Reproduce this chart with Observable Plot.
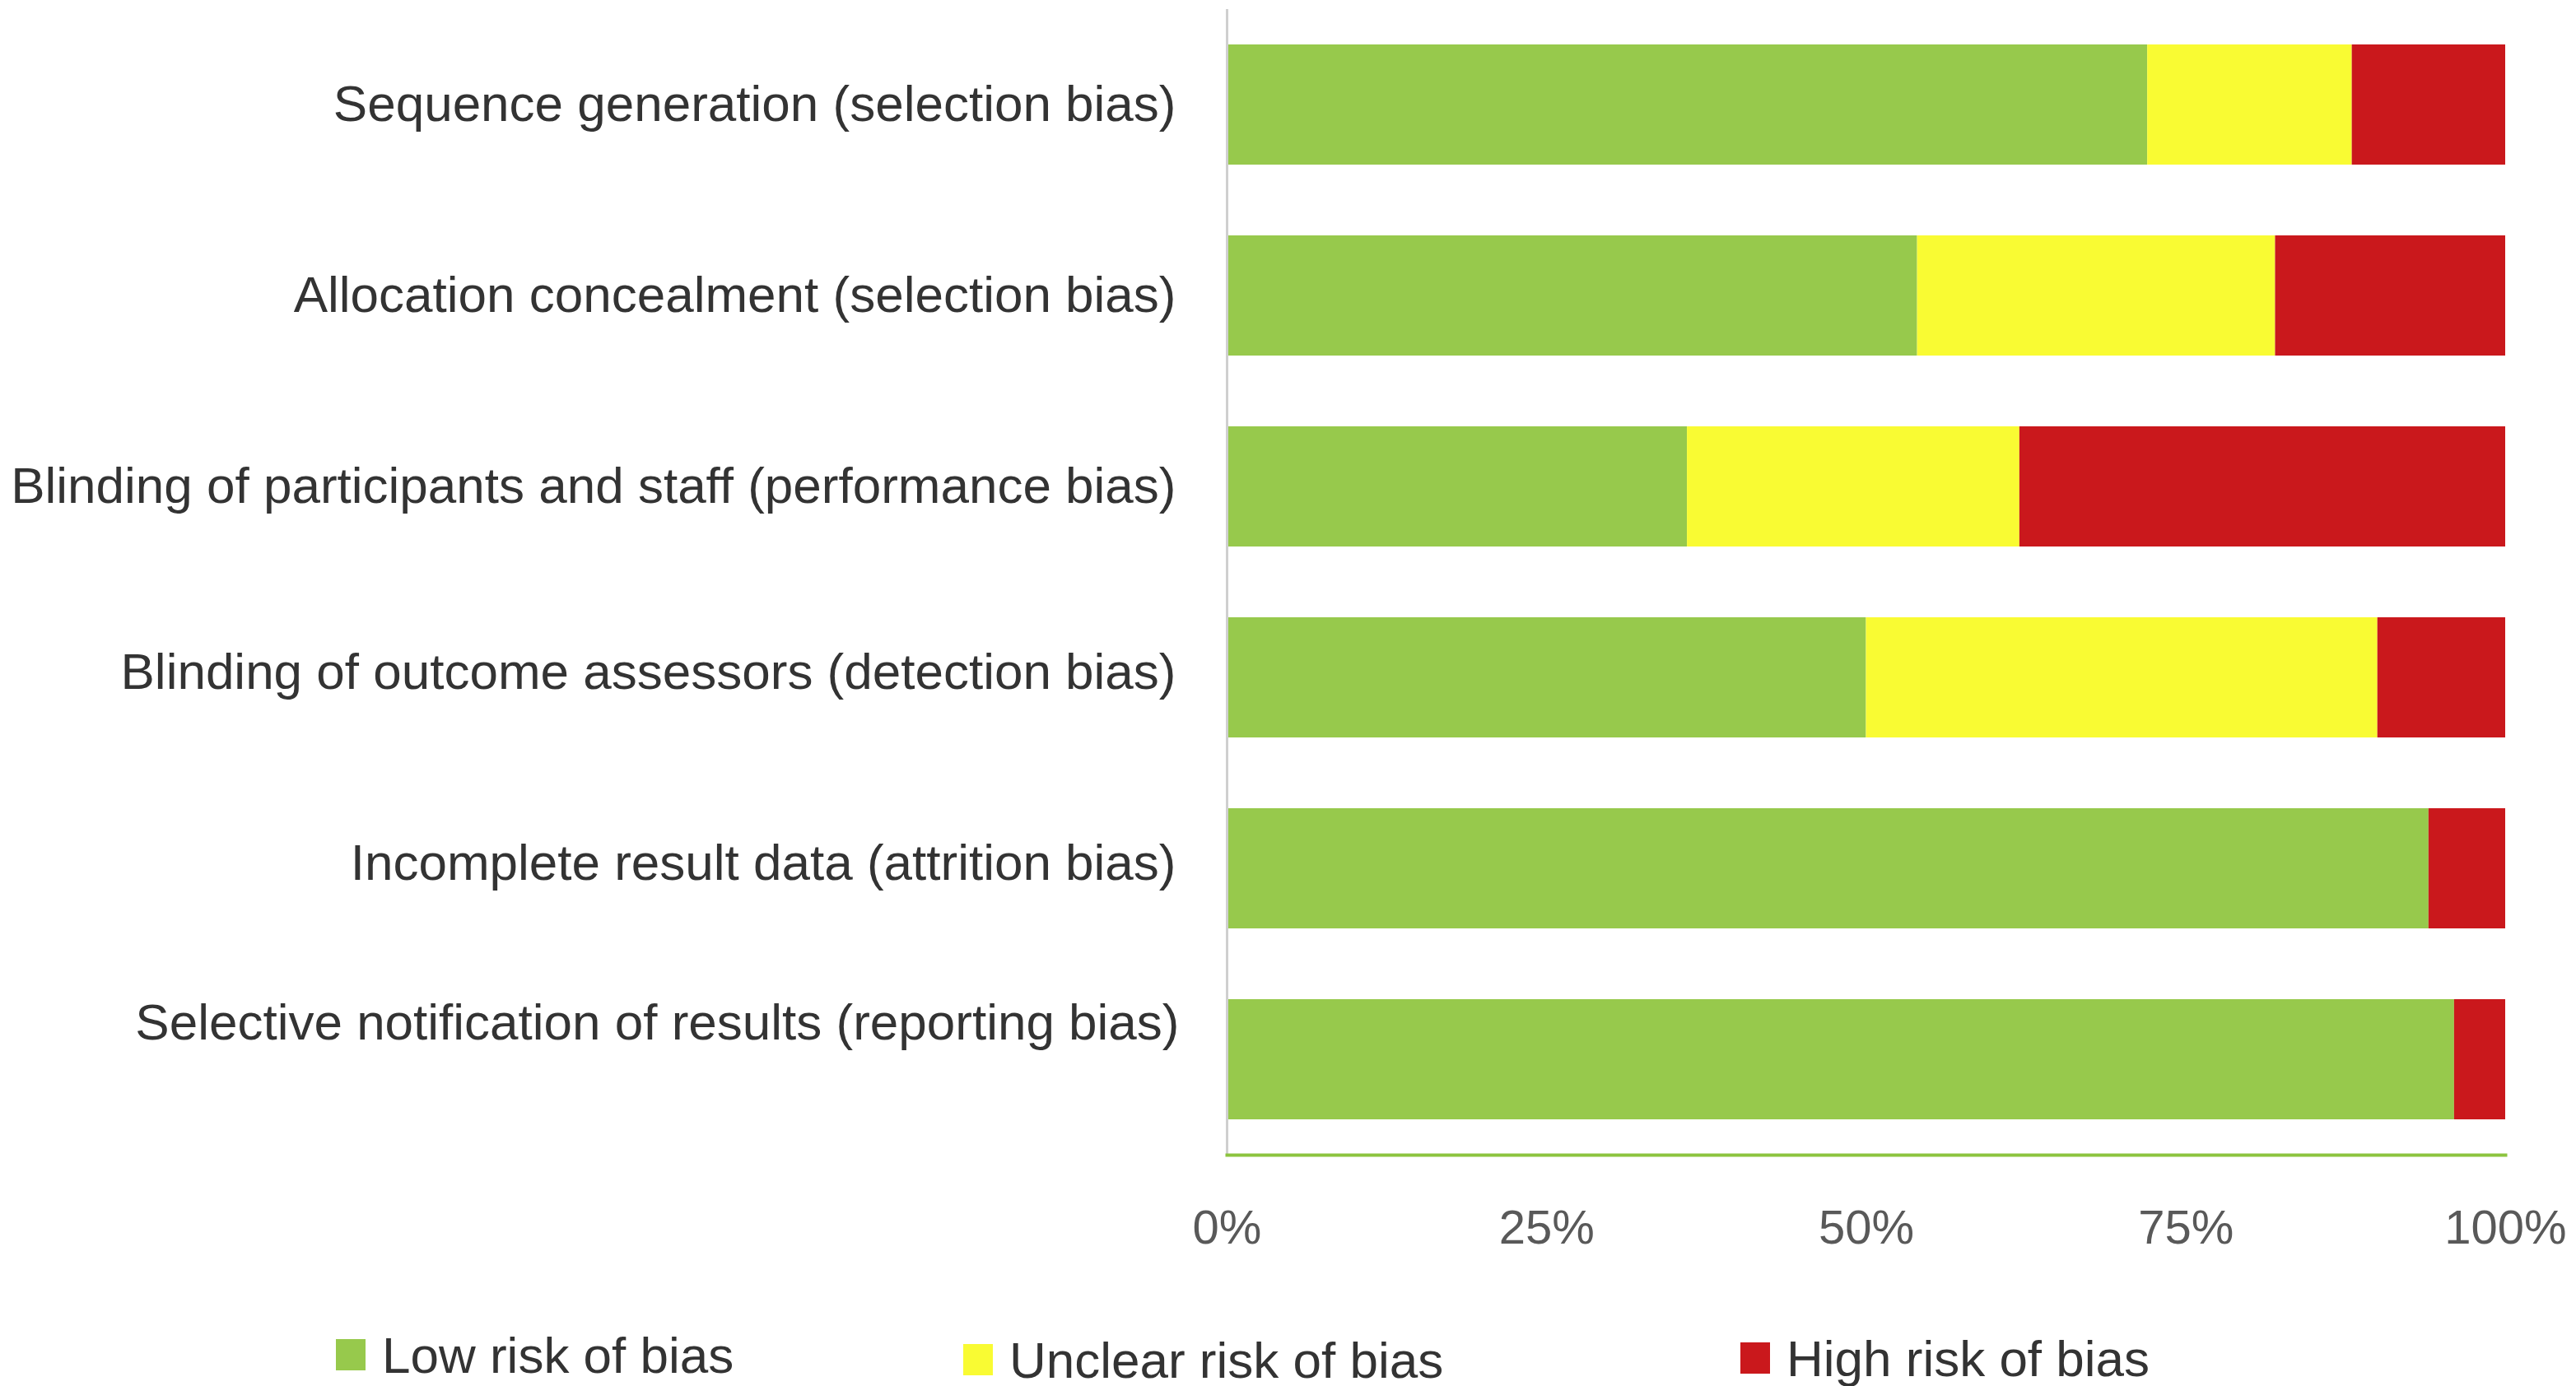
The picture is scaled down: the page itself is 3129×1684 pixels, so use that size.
<!DOCTYPE html>
<html>
<head>
<meta charset="utf-8">
<script src="https://cdn.jsdelivr.net/npm/d3@7"></script>
<script src="https://cdn.jsdelivr.net/npm/@observablehq/plot@0.6"></script>
<style>
  html, body { margin: 0; padding: 0; background: #fff; }
  #wrap { position: relative; width: 3129px; height: 1684px; font-family: "Liberation Sans", Arial, sans-serif; }
  #legend { position: absolute; left: 0; top: 0; width: 3129px; height: 1684px; pointer-events: none; }
  .item { position: absolute; display: flex; align-items: center; font-size: 62px; color: #333; white-space: nowrap; }
  .sw { width: 36px; height: 38px; margin-right: 20px; }
</style>
</head>
<body>
<div id="wrap"></div>
<script>
const domains = [
  "Sequence generation (selection bias)",
  "Allocation concealment (selection bias)",
  "Blinding of participants and staff (performance bias)",
  "Blinding of outcome assessors (detection bias)",
  "Incomplete result data (attrition bias)",
  "Selective notification of results (reporting bias)"
];
const riskLevels = ["Low risk of bias", "Unclear risk of bias", "High risk of bias"];
const riskColors = ["#97c94c", "#f9fb33", "#ca181c"];
const lowRisk     = [72, 54, 36, 50, 94, 96];
const unclearRisk = [16, 28, 26, 40, 0, 0];
const highRisk    = [12, 18, 38, 10, 6, 4];
const xTicks = [0, 25, 50, 75, 100];

const series = [lowRisk, unclearRisk, highRisk];
const data = [];
domains.forEach((d, i) => {
  riskLevels.forEach((r, j) => data.push({domain: d, risk: r, value: series[j][i]}));
});

const chart = Plot.plot({
  width: 3129,
  height: 1590,
  marginLeft: 1490,
  marginRight: 86,
  marginTop: 11,
  marginBottom: 187,
  style: {fontFamily: "'Liberation Sans', Arial, sans-serif", background: "#fff"},
  x: {domain: [0, 100]},
  y: {domain: domains, paddingInner: 0.37, paddingOuter: 0.185},
  color: {domain: riskLevels, range: riskColors},
  marks: [
    Plot.barX(data, Plot.stackX({x: "value", y: "domain", fill: "risk", order: riskLevels})),
    Plot.ruleX([0], {stroke: "#cfcfcf", strokeWidth: 3}),
    Plot.frame({anchor: "bottom", stroke: "#8cc43f", strokeWidth: 4}),
    Plot.axisX({ticks: xTicks, tickFormat: d => d + "%", tickSize: 0, tickPadding: 66, fontSize: 58, fill: "#595959", label: null}),
    Plot.axisY({ticks: domains.slice(0, 3), tickSize: 0, tickPadding: 62, fontSize: 62, fill: "#333", label: null}),
    Plot.axisY({ticks: domains.slice(3, 5), tickSize: 0, tickPadding: 62, fontSize: 62, fill: "#333", label: null, dy: -6}),
    Plot.axisY({ticks: domains.slice(5), tickSize: 0, tickPadding: 58, fontSize: 62, fill: "#333", label: null, dy: -44})
  ]
});

const wrap = document.getElementById("wrap");
wrap.appendChild(chart);

const legend = document.createElement("div");
legend.id = "legend";
const lefts = [408, 1170, 2114];
const tops = [1646, 1652, 1650];
riskLevels.forEach((r, j) => {
  const it = document.createElement("div");
  it.className = "item";
  it.style.left = lefts[j] + "px";
  it.style.top = (tops[j] - 40) + "px";
  it.style.height = "80px";
  const sw = document.createElement("span");
  sw.className = "sw";
  sw.style.background = riskColors[j];
  it.appendChild(sw);
  it.appendChild(document.createTextNode(r));
  legend.appendChild(it);
});
wrap.appendChild(legend);
</script>
</body>
</html>
